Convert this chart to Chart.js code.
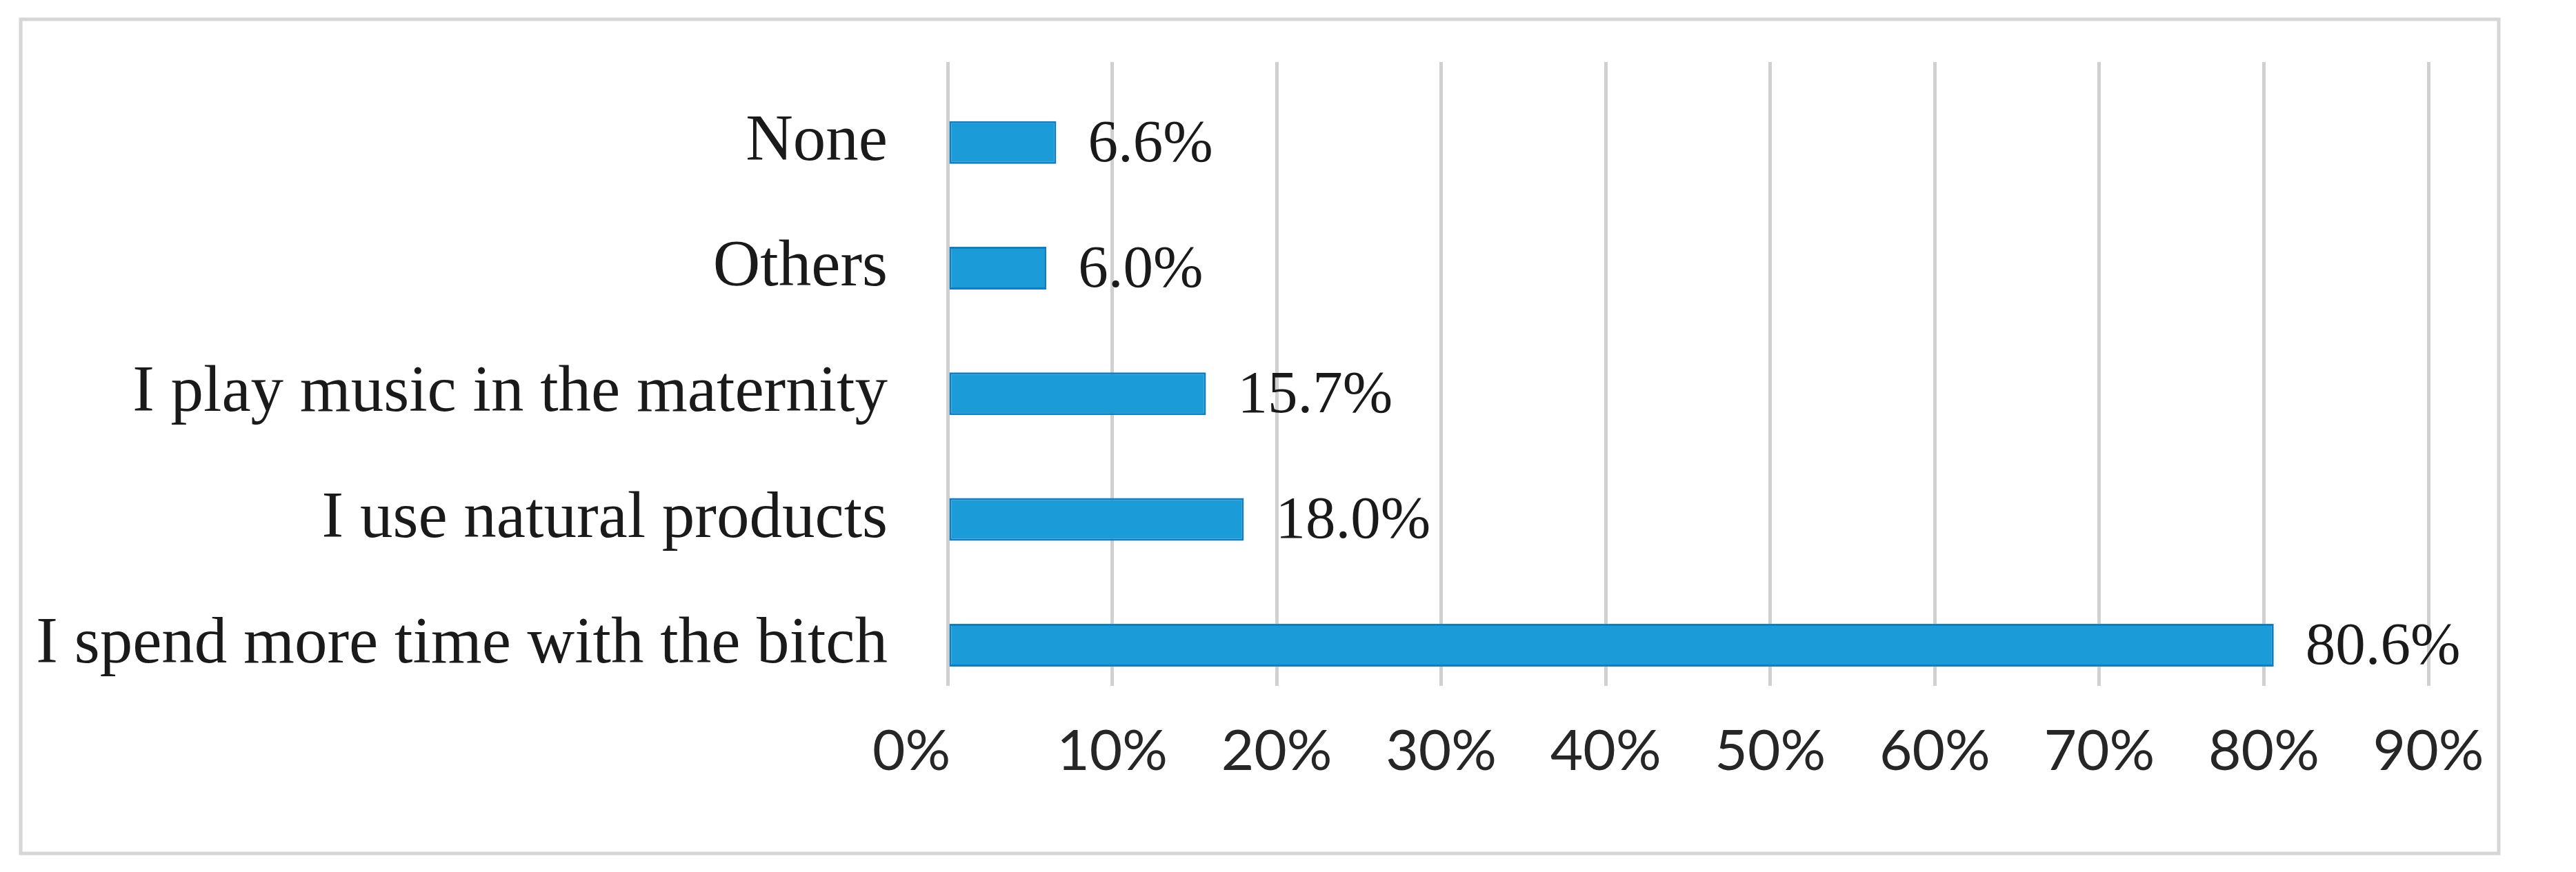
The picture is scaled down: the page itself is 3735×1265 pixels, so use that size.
<!DOCTYPE html>
<html>
<head>
<meta charset="utf-8">
<script src="https://cdn.jsdelivr.net/npm/chart.js@4.4.1/dist/chart.umd.min.js"></script>
<style>
  html, body { margin: 0; padding: 0; background: #fff; }
  canvas { display: block; }
</style>
</head>
<body>
<canvas id="chart" width="3735" height="1265"></canvas>
<script>
// datos
const categories = [
    'None',
    'Others',
    'I play music in the maternity',
    'I use natural products',
    'I spend more time with the bitch'
];
const values = [6.6, 6.0, 15.7, 18.0, 80.6];
const valueLabels = ['6.6%', '6.0%', '15.7%', '18.0%', '80.6%'];
const xTickValues = [0, 10, 20, 30, 40, 50, 60, 70, 80, 90];

// marco gris alrededor del grafico
const framePlugin = {
    id: 'frame',
    beforeDraw(chart) {
        const ctx = chart.ctx;
        ctx.save();
        ctx.fillStyle = '#ffffff';
        ctx.fillRect(0, 0, chart.width, chart.height);
        ctx.strokeStyle = '#d6d6d6';
        ctx.lineWidth = 5;
        ctx.strokeRect(30, 28, 3623 - 30, 1238 - 28);
        ctx.restore();
    }
};

// etiquetas de valor a la derecha de cada barra
const barLabelPlugin = {
    id: 'barLabels',
    afterDatasetsDraw(chart) {
        const ctx = chart.ctx;
        const meta = chart.getDatasetMeta(0);
        ctx.save();
        ctx.font = '87px "Liberation Serif"';
        ctx.fillStyle = '#1a1a1a';
        ctx.textAlign = 'left';
        ctx.textBaseline = 'middle';
        meta.data.forEach((bar, i) => {
            ctx.fillText(valueLabels[i], bar.x + 46, bar.y + 4);
        });
        ctx.restore();
    }
};

const ctx = document.getElementById('chart').getContext('2d');
new Chart(ctx, {
    type: 'bar',
    data: {
        datasets: [{
            data: values.map((v, i) => ({ x: v, y: i })),
            backgroundColor: '#1b9bd7',
            borderColor: '#0d7fc2',
            borderWidth: 3,
            borderSkipped: false,
            categoryPercentage: 0.34,
            barPercentage: 1
        }]
    },
    options: {
        indexAxis: 'y',
        responsive: false,
        animation: false,
        devicePixelRatio: 1,
        layout: { padding: { top: 90, right: 214, left: 0, bottom: 0 } },
        plugins: {
            legend: { display: false },
            tooltip: { enabled: false }
        },
        scales: {
            x: {
                type: 'linear',
                min: 0,
                max: 90,
                afterBuildTicks: (scale) => {
                    scale.ticks = xTickValues.map(v => ({ value: v }));
                },
                afterFit: (scale) => { scale.height = 270; },
                border: { display: false },
                grid: { color: '#d0d0d0', lineWidth: 5, drawTicks: false },
                ticks: {
                    padding: 46,
                    color: '#262626',
                    font: { family: 'Lato', size: 82 },
                    // en el original el 0% queda algo desplazado a la izquierda
                    callback: (v) => v === 0 ? '0%     ' : v + '%'
                }
            },
            y: {
                type: 'linear',
                reverse: true,
                offset: false,
                min: -0.64,
                max: 4.324,
                afterBuildTicks: (scale) => {
                    scale.ticks = categories.map((c, i) => ({ value: i }));
                },
                afterFit: (scale) => { scale.width = 1374; },
                border: { display: false },
                grid: { display: false, drawTicks: false },
                ticks: {
                    padding: 87,
                    color: '#1a1a1a',
                    // lineHeight bajo para que la etiqueta no empuje el area del grafico
                    font: { family: 'Liberation Serif', size: 95, lineHeight: 0.05 },
                    callback: (v) => categories[v] !== undefined ? categories[v] : ''
                }
            }
        }
    },
    plugins: [framePlugin, barLabelPlugin]
});
</script>
</body>
</html>
